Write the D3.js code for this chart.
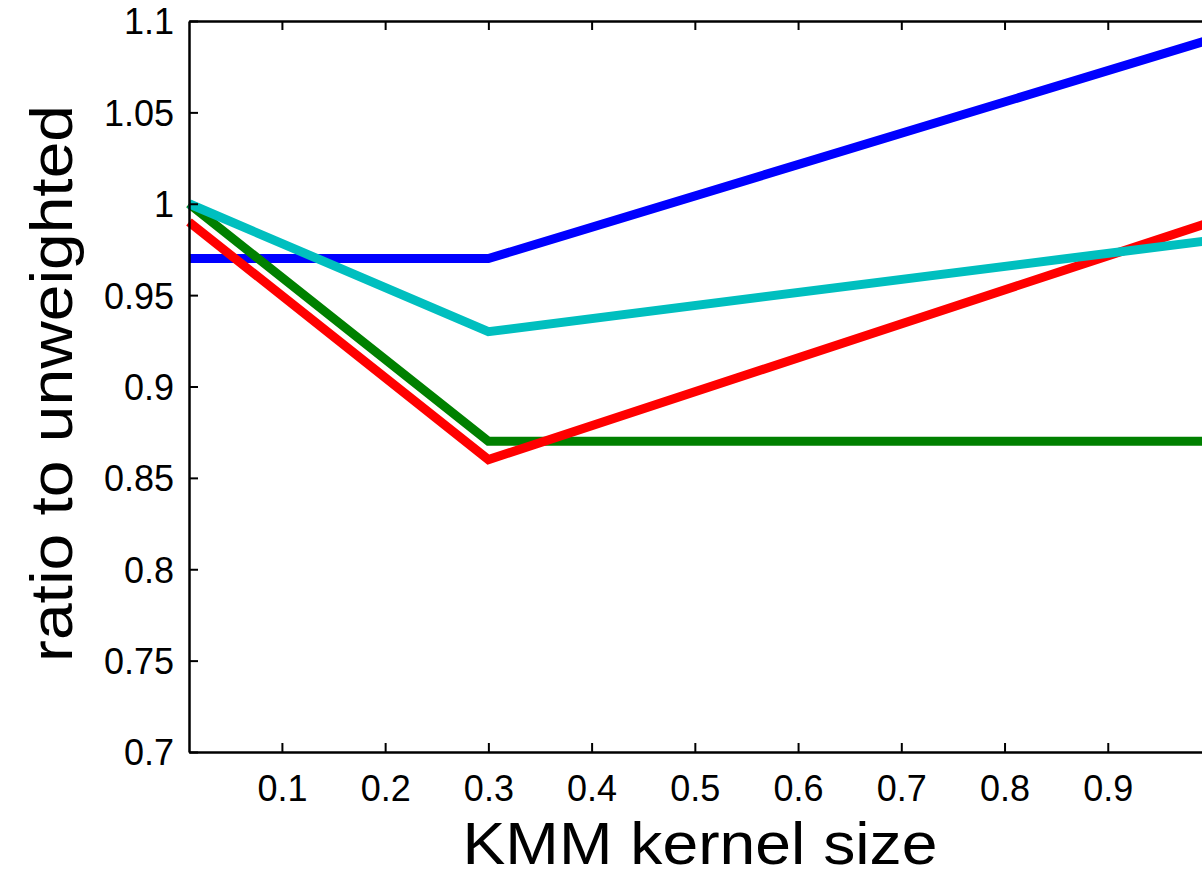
<!DOCTYPE html>
<html>
<head>
<meta charset="utf-8">
<script src="https://cdn.jsdelivr.net/npm/d3@7"></script>
<style>
  body { margin: 0; background: #fff; }
  svg { display: block; font-family: "Liberation Sans", Arial, Helvetica, sans-serif; }
</style>
</head>
<body>
<svg width="1202" height="876"></svg>
<script>
// kernel sizes tried
var kernelSizes = [0.01, 0.3, 1.0];

// ratio to unweighted for each run (drawing order: blue, green, red, cyan)
var blueSeries  = [0.97, 0.97, 1.09];
var greenSeries = [1.00, 0.87, 0.87];
var redSeries   = [0.99, 0.86, 0.99];
var cyanSeries  = [1.00, 0.93, 0.98];

var xTicks = [0.1, 0.2, 0.3, 0.4, 0.5, 0.6, 0.7, 0.8, 0.9];
var yTicks = [0.7, 0.75, 0.8, 0.85, 0.9, 0.95, 1, 1.05, 1.1];

var svg = d3.select("svg");

// plot box (window.top is reserved, so prefix these)
var plotLeft = 189, plotRight = 1211, plotTop = 21, plotBottom = 752;

var x = d3.scaleLinear().domain([0.01, 1.0]).range([plotLeft, plotRight]);
var y = d3.scaleLinear().domain([0.7, 1.1]).range([plotBottom, plotTop]);

var series = [
  { values: blueSeries,  color: "#0000ff" },
  { values: greenSeries, color: "#008000" },
  { values: redSeries,   color: "#ff0000" },
  { values: cyanSeries,  color: "#00bfbf" }
];

var line = d3.line()
    .x(function(d, i) { return x(kernelSizes[i]); })
    .y(function(d) { return y(d); });

svg.append("g")
    .attr("class", "lines")
  .selectAll("path")
  .data(series)
  .enter().append("path")
    .attr("fill", "none")
    .attr("stroke", function(d) { return d.color; })
    .attr("stroke-width", 9)
    .attr("d", function(d) { return line(d.values); });

// axes, ticks pointing inward like matlab
function styleAxis(g) {
  g.select(".domain").attr("stroke", "#000").attr("stroke-width", 2.5);
  g.selectAll(".tick line").attr("stroke", "#000").attr("stroke-width", 2);
  g.selectAll(".tick text").attr("fill", "#000").attr("font-size", 36);
}

var xAxis = svg.append("g")
    .attr("transform", "translate(0," + plotBottom + ")")
    .call(d3.axisTop(x).tickValues(xTicks).tickSize(9).tickSizeOuter(0)
      .tickFormat(d3.format("")));
styleAxis(xAxis);
xAxis.selectAll(".tick text").attr("y", 49).attr("dy", 0);

var xTop = svg.append("g")
    .attr("transform", "translate(0," + plotTop + ")")
    .call(d3.axisBottom(x).tickValues(xTicks).tickSize(9).tickSizeOuter(0).tickFormat(""));
styleAxis(xTop);

var yAxis = svg.append("g")
    .attr("transform", "translate(" + plotLeft + ",0)")
    .call(d3.axisRight(y).tickValues(yTicks).tickSize(9).tickSizeOuter(0)
      .tickFormat(d3.format("")));
styleAxis(yAxis);
yAxis.selectAll(".tick text")
    .attr("x", -15)
    .attr("dy", "0.36em")
    .attr("text-anchor", "end");

var yRight = svg.append("g")
    .attr("transform", "translate(" + plotRight + ",0)")
    .call(d3.axisLeft(y).tickValues(yTicks).tickSize(9).tickSizeOuter(0).tickFormat(""));
styleAxis(yRight);

// axis titles
svg.append("text")
    .attr("x", (plotLeft + plotRight) / 2)
    .attr("y", 864)
    .attr("text-anchor", "middle")
    .attr("font-size", 59)
    .attr("textLength", 475)
    .attr("lengthAdjust", "spacingAndGlyphs")
    .text("KMM kernel size");

svg.append("text")
    .attr("transform", "translate(72," + 383.5 + ") rotate(-90)")
    .attr("text-anchor", "middle")
    .attr("font-size", 60)
    .attr("textLength", 557)
    .attr("lengthAdjust", "spacingAndGlyphs")
    .text("ratio to unweighted");
</script>
</body>
</html>
